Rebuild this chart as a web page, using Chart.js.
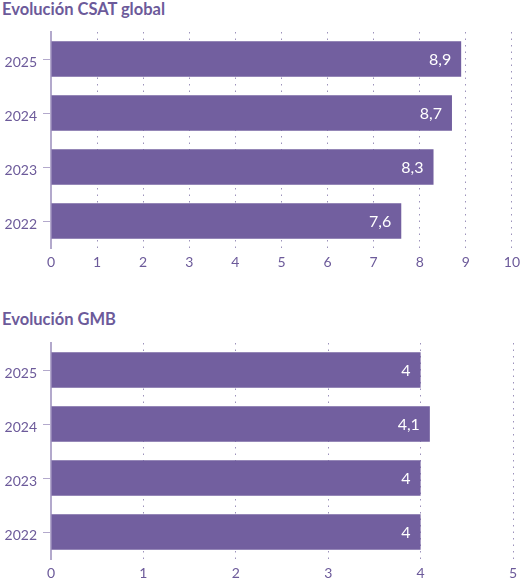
<!DOCTYPE html>
<html>
<head>
<meta charset="utf-8">
<script src="https://cdn.jsdelivr.net/npm/chart.js@4/dist/chart.umd.min.js"></script>
<style>
  body { margin: 0; background: #fff; width: 526px; height: 585px; position: relative; overflow: hidden; font-family: Lato, sans-serif; }
  .titulo { position: absolute; left: 2px; font-weight: bold; font-size: 16.5px; line-height: 20px; color: #6c5a9a; white-space: nowrap; }
  .caja { position: absolute; left: 0; width: 526px; height: 274px; }
</style>
</head>
<body>
<div class="titulo" style="top:-1px">Evolución CSAT global</div>
<div class="caja" style="top:0px"><canvas id="graficoCsat"></canvas></div>
<div class="titulo" style="top:309px">Evolución GMB</div>
<div class="caja" style="top:311px"><canvas id="graficoGmb"></canvas></div>
<script>
// Datos
var anos = ['2025', '2024', '2023', '2022'];
var valoresCsat = [8.9, 8.7, 8.3, 7.6];
var valoresGmb = [4, 4.1, 4, 4];
var maxCsat = 10;
var maxGmb = 5;

var colorBarra = '#725f9f';
var colorTexto = '#6c5a9a';

// Etiquetas blancas dentro del final de cada barra
var etiquetasValor = {
    id: 'etiquetasValor',
    afterDatasetsDraw(chart) {
        var ctx = chart.ctx;
        var meta = chart.getDatasetMeta(0);
        var datos = chart.data.datasets[0].data;
        ctx.save();
        ctx.fillStyle = '#ffffff';
        ctx.font = '16px Lato';
        ctx.textAlign = 'right';
        ctx.textBaseline = 'middle';
        meta.data.forEach((barra, i) => {
            ctx.fillText(String(datos[i]).replace('.', ','), barra.x - 10, barra.y + 1);
        });
        ctx.restore();
    }
};

function criarGrafico(id, valores, max) {
    var ctx = document.getElementById(id).getContext('2d');
    new Chart(ctx, {
        type: 'bar',
        data: {
            labels: anos,
            datasets: [{
                data: valores,
                backgroundColor: colorBarra,
                borderWidth: 0,
                categoryPercentage: 1,
                barPercentage: 0.66
            }]
        },
        options: {
            indexAxis: 'y',
            responsive: true,
            maintainAspectRatio: false,
            animation: false,
            layout: { padding: { top: 32, right: 13, left: 0, bottom: 0 } },
            plugins: {
                legend: { display: false },
                tooltip: { enabled: false }
            },
            scales: {
                x: {
                    min: 0,
                    max: max,
                    ticks: {
                        stepSize: 1,
                        padding: 6,
                        color: colorTexto,
                        font: { family: 'Lato', size: 14 }
                    },
                    grid: {
                        color: '#9c92bb',
                        lineWidth: 1,
                        drawTicks: false
                    },
                    border: { display: false, dash: [1.5, 5] },
                    afterFit: function (scale) { scale.height = 26; }
                },
                y: {
                    ticks: {
                        padding: 6,
                        labelOffset: 3,
                        color: colorTexto,
                        font: { family: 'Lato', size: 14 }
                    },
                    grid: {
                        offset: false,
                        drawOnChartArea: false,
                        drawTicks: true,
                        tickLength: 8,
                        color: '#b3a9cc'
                    },
                    border: { display: true, color: '#b3a9cc', width: 2 },
                    afterFit: function (scale) { scale.width = 51; }
                }
            }
        },
        plugins: [etiquetasValor]
    });
}

criarGrafico('graficoCsat', valoresCsat, maxCsat);
criarGrafico('graficoGmb', valoresGmb, maxGmb);
</script>
</body>
</html>
